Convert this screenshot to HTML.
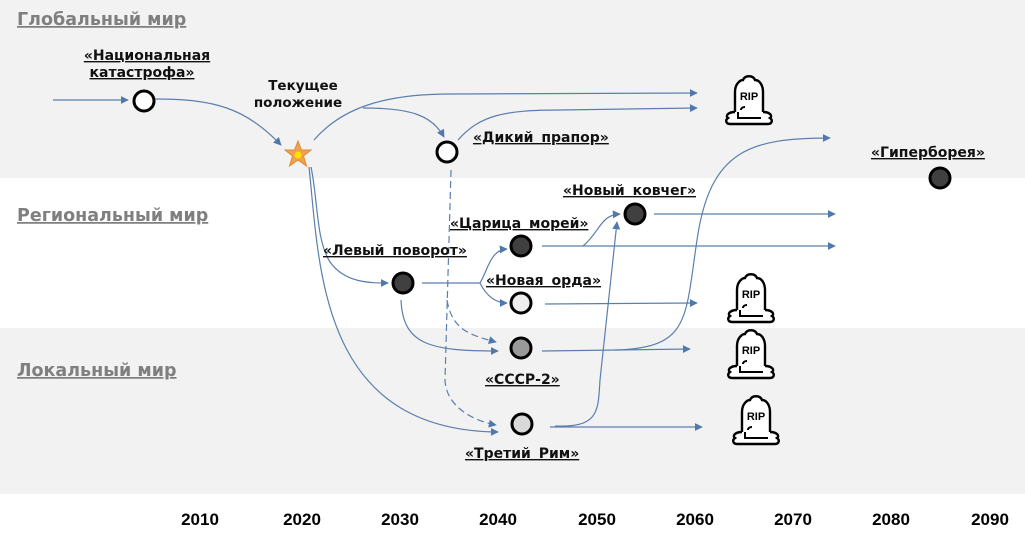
<!DOCTYPE html>
<html><head><meta charset="utf-8"><style>
html,body{margin:0;padding:0;background:#fff}
svg{display:block}
.b{font-family:"DejaVu Sans","Liberation Sans",sans-serif;font-weight:bold;font-size:17.5px;fill:#7f7f7f;text-decoration:underline}
.l{font-family:"DejaVu Sans","Liberation Sans",sans-serif;font-weight:bold;font-size:14px;fill:#111;text-decoration:underline;word-spacing:3px}
.t{font-family:"DejaVu Sans","Liberation Sans",sans-serif;font-weight:bold;font-size:13.5px;fill:#111}
.y{font-family:"Liberation Sans Narrow","Liberation Sans",sans-serif;font-weight:bold;font-size:17px;fill:#000}
.c{fill:none;stroke:#5b7fad;stroke-width:1.2}
.d{fill:none;stroke:#5b7fad;stroke-width:1.2;stroke-dasharray:7 4}
.n{stroke:#000;stroke-width:3}
</style></head><body>
<svg width="1025" height="543" viewBox="0 0 1025 543" xmlns="http://www.w3.org/2000/svg">
<defs>
<marker id="a" viewBox="0 0 10 10" refX="9" refY="5" markerWidth="8" markerHeight="8" orient="auto" markerUnits="userSpaceOnUse"><path d="M0,0 L10,5 L0,10 z" fill="#4f79ad"/></marker>
<g id="rip">
<path d="M-14,14 L-14,-6 C-14,-14 -9,-18 -6,-18 C-4,-23 4,-23 6,-18 C11,-18 14,-12 14,-6 L14,14" fill="#fff" stroke="#000" stroke-width="2.4"/>
<path d="M-14,14 C-21,14 -24,18 -21,20 C-24,22 -23,26 -19,26 L19,26 C23,26 24,22 21,20 C24,18 21,14 14,14" fill="#fff" stroke="#000" stroke-width="2.4"/>
<path d="M-12,20 L12,20 M-11,14 L-11,19 M-8,12 C-8,10 -6,9 -4,9" fill="none" stroke="#000" stroke-width="2"/>
<text x="0" y="2" text-anchor="middle" font-family="Liberation Sans,sans-serif" font-weight="bold" font-size="11" fill="#000">RIP</text>
</g>
</defs>
<rect x="0" y="0" width="1025" height="178" fill="#f2f2f2"/>
<rect x="0" y="328" width="1025" height="166" fill="#f2f2f2"/>

<text class="b" x="17" y="25">Глобальный мир</text>
<text class="b" x="17" y="221">Региональный мир</text>
<text class="b" x="17" y="376">Локальный мир</text>

<path class="c" d="M53,100 L128,100" marker-end="url(#a)"/>
<path class="c" d="M155,99 C215,99 245,108 281,145" marker-end="url(#a)"/>
<path class="c" d="M314,140 C340,110 380,94 450,94 L697,93" marker-end="url(#a)"/>
<path class="c" d="M363,108 C410,108 432,115 444,137" marker-end="url(#a)"/>
<path class="c" d="M458,140 C480,115 505,110 560,110 L697,108" marker-end="url(#a)"/>
<path class="d" d="M451,170 L445,380 C446,405 470,420 496,425" marker-end="url(#a)"/>
<path class="d" d="M447,300 C452,330 470,335 496,342" marker-end="url(#a)"/>
<path class="c" d="M311,167 C318,200 316,240 330,262 C345,283 370,283 388,283" marker-end="url(#a)"/>
<path class="c" d="M309,167 C320,270 320,430 498,432" marker-end="url(#a)"/>
<path class="c" d="M422,283 L480,283 C488,270 490,250 507,249" marker-end="url(#a)"/>
<path class="c" d="M480,283 C486,295 495,303 507,303" marker-end="url(#a)"/>
<path class="c" d="M401,300 C403,345 430,351 498,351" marker-end="url(#a)"/>
<path class="c" d="M542,246 L835,246" marker-end="url(#a)"/>
<path class="c" d="M583,246 C600,232 600,215 620,214" marker-end="url(#a)"/>
<path class="c" d="M654,214 L835,214" marker-end="url(#a)"/>
<path class="c" d="M545,304 L697,303" marker-end="url(#a)"/>
<path class="c" d="M542,351 L690,349" marker-end="url(#a)"/>
<path class="c" d="M615,350 C690,348 685,320 697,240 C710,150 750,138 830,138" marker-end="url(#a)"/>
<path class="c" d="M550,427 L702,427" marker-end="url(#a)"/>
<path class="c" d="M555,426 C600,428 598,410 600,380 L617,222" marker-end="url(#a)"/>

<circle class="n" cx="144" cy="101" r="10" fill="#fff"/>
<circle class="n" cx="447" cy="152" r="10" fill="#fff"/>
<circle class="n" cx="403" cy="283" r="10" fill="#404040"/>
<circle class="n" cx="521" cy="246" r="10" fill="#404040"/>
<circle class="n" cx="521" cy="303" r="10" fill="#eeeeee"/>
<circle class="n" cx="521" cy="348" r="10" fill="#999"/>
<circle class="n" cx="522" cy="424" r="10" fill="#d9d9d9"/>
<circle class="n" cx="635" cy="214" r="10" fill="#404040"/>
<circle class="n" cx="940" cy="178" r="10" fill="#404040"/>
<polygon points="298,141 301.5,150 311,150 303.5,156 306.5,166 298,160 289.5,166 292.5,156 285,150 294.5,150" fill="#f0a050" stroke="#e08a30" stroke-width="1"/>
<circle cx="298" cy="155" r="3.5" fill="#ffe000"/>

<use href="#rip" x="749" y="98"/>
<use href="#rip" x="751" y="296"/>
<use href="#rip" x="751" y="352"/>
<use href="#rip" x="756" y="418"/>

<text class="l" x="147" y="60" text-anchor="middle">«Национальная</text>
<text class="l" x="142" y="77" text-anchor="middle">катастрофа»</text>
<text class="t" x="303" y="90" text-anchor="middle">Текущее</text>
<text class="t" x="298" y="107" text-anchor="middle">положение</text>
<text class="l" x="473" y="142">«Дикий прапор»</text>
<text class="l" x="871" y="157">«Гиперборея»</text>
<text class="l" x="563" y="195">«Новый ковчег»</text>
<text class="l" x="450" y="228">«Царица морей»</text>
<text class="l" x="323" y="255">«Левый поворот»</text>
<text class="l" x="486" y="285">«Новая орда»</text>
<text class="l" x="485" y="384">«СССР-2»</text>
<text class="l" x="465" y="458">«Третий Рим»</text>

<g class="y" text-anchor="middle">
<text x="200" y="525">2010</text><text x="302" y="525">2020</text><text x="400" y="525">2030</text>
<text x="498" y="525">2040</text><text x="597" y="525">2050</text><text x="695" y="525">2060</text>
<text x="793" y="525">2070</text><text x="891" y="525">2080</text><text x="990" y="525">2090</text>
</g>
</svg>
</body></html>
